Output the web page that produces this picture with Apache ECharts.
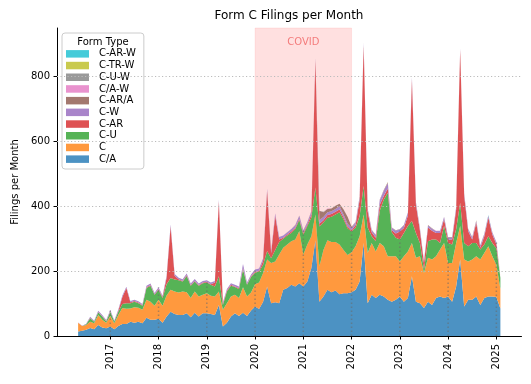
<!DOCTYPE html>
<html><head><meta charset="utf-8">
<script src="https://cdn.jsdelivr.net/npm/echarts@6/dist/echarts.min.js"></script>
<style>html,body{margin:0;padding:0;background:#fff}#c{width:531px;height:384px}</style>
</head><body><div id="c"></div>
<script>
// ---- data ----
const FIRST_MONTH = '2016-05';
const N_MONTHS = 106; // 2016-05 .. 2025-02
const yearTicks = [2017, 2018, 2019, 2020, 2021, 2022, 2023, 2024, 2025];
const yTicks = [0, 200, 400, 600, 800];
const covidSpan = ['2020-01', '2022-01'];

// monthly filings per form type (rows = years)
const CA = [14,16,19,25,21,34,26,24,
 29,21,31,37,37,44,41,44,39,56,50,50,
 53,41,60,75,68,65,65,70,58,72,60,70,
 70,68,65,96,29,41,60,70,62,72,62,79,
 91,83,106,153,101,104,101,143,148,158,153,163,
 153,168,210,295,106,122,143,135,140,129,132,132,
 135,143,168,287,101,127,117,127,122,112,106,112,
 122,106,117,184,106,101,86,106,96,117,122,117,
 122,106,153,236,91,112,112,122,96,117,122,122,
 120,85];
const C = [27,15,15,19,18,31,24,17,
 33,18,34,49,47,41,48,43,42,56,56,43,
 59,52,65,68,69,69,72,65,59,65,62,57,
 62,56,57,41,52,60,62,57,55,78,60,55,
 69,82,88,83,124,126,150,129,134,134,145,161,
 98,114,98,80,109,143,152,155,150,153,133,118,
 123,134,140,88,155,160,144,160,155,134,140,134,
 108,140,144,103,135,145,108,135,140,129,145,170,
 103,119,134,103,145,118,124,124,140,139,155,124,
 100,60];
const CU = [0,0,2,11,5,8,10,4,
 13,6,10,13,17,16,17,14,12,36,49,34,
 31,24,35,36,37,38,31,50,38,31,33,36,
 33,34,31,47,15,36,33,24,28,55,36,48,
 35,34,26,26,15,35,39,28,28,26,32,34,
 62,57,57,83,123,85,70,78,85,100,95,82,
 64,57,62,88,79,21,31,99,143,196,74,57,
 68,72,78,68,77,41,11,51,62,52,20,52,
 62,57,42,72,51,47,51,41,31,26,31,41,
 50,35];
const CAR = [0,0,0,1,0,1,1,1,
 1,0,3,21,47,3,2,2,2,2,2,2,
 2,3,20,159,12,3,2,3,2,2,2,2,
 2,2,12,231,4,3,3,2,3,5,2,3,
 3,2,12,185,15,105,8,3,3,4,4,4,
 5,5,10,392,8,7,8,8,8,8,6,6,
 4,8,50,432,50,12,11,19,12,13,6,13,
 24,15,33,435,87,38,20,43,27,20,31,21,
 11,16,61,471,145,46,11,62,5,26,57,26,
 13,3];
const CW = [1,1,2,3,3,4,4,3,
 4,3,4,5,4,4,4,4,4,5,5,4,
 5,4,6,6,5,5,5,5,5,6,5,5,
 5,5,5,5,4,5,5,5,5,12,5,5,
 7,7,8,7,7,7,7,7,6,8,7,9,
 7,7,8,6,12,10,9,9,9,10,9,8,
 8,8,8,8,7,7,8,14,16,17,8,9,
 7,8,9,8,7,6,5,6,6,6,7,7,
 6,6,7,5,7,6,6,6,7,6,6,6,
 6,4];
const CARA = [0,0,0,0,0,0,0,0,
 0,0,0,0,0,0,0,0,0,0,0,0,
 0,0,0,0,0,0,0,0,0,0,0,0,
 0,0,0,0,0,0,0,0,0,0,0,0,
 0,0,0,1,0,1,0,0,1,0,1,1,
 1,1,2,2,28,15,10,8,10,8,15,22,
 3,2,2,2,1,1,1,1,2,2,1,1,
 1,1,1,2,1,1,0,1,1,0,0,1,
 1,1,1,1,1,1,1,1,1,1,1,1,
 1,0];
const CAW = [0,0,0,0,0,0,0,0,
 0,0,0,0,0,0,0,0,0,0,0,0,
 0,0,0,0,0,0,0,0,0,0,0,0,
 0,0,0,0,0,0,0,0,0,0,0,0,
 0,0,0,0,0,1,0,0,0,0,0,0,
 0,0,1,0,0,0,1,0,0,0,0,0,
 0,1,0,0,0,0,0,1,0,0,0,0,
 0,0,0,1,0,0,0,0,0,1,0,0,
 0,0,1,0,0,0,0,0,1,0,0,0,
 0,0];
const CUW = [0,0,0,0,0,0,0,0,
 0,0,0,0,0,0,0,0,0,0,0,0,
 0,0,0,0,0,0,0,0,0,0,0,0,
 0,0,0,0,0,0,0,0,0,0,0,0,
 0,0,0,0,0,0,0,0,0,0,0,0,
 0,0,0,0,0,1,0,0,0,0,1,0,
 0,0,0,0,1,0,0,0,0,0,0,0,
 0,0,0,0,0,0,1,0,0,0,0,0,
 0,0,0,0,0,1,0,0,0,0,0,0,
 0,0];
const CTRW = [0,0,0,0,0,0,0,0,
 0,0,0,0,0,0,0,0,0,0,0,0,
 0,0,0,0,0,0,0,0,0,0,0,0,
 0,0,0,0,0,0,0,0,0,0,0,0,
 0,0,0,0,0,0,0,0,0,0,0,0,
 0,0,0,0,0,0,0,0,0,0,0,0,
 0,0,0,0,0,0,0,0,0,1,0,0,
 0,0,0,0,0,0,0,0,0,0,0,0,
 0,0,0,0,0,0,0,1,0,0,0,0,
 0,0];
const CARW = [0,0,0,0,0,0,0,0,
 0,0,0,0,0,0,0,0,0,0,0,0,
 0,0,0,0,0,0,0,0,0,0,0,0,
 0,0,0,0,0,0,0,0,0,0,0,0,
 0,0,0,0,0,0,0,0,0,0,0,0,
 0,0,0,0,0,0,0,0,0,0,0,0,
 0,0,0,0,0,0,0,0,0,0,0,0,
 0,0,0,0,1,0,0,0,0,0,0,0,
 0,0,0,0,0,0,0,0,0,0,1,0,
 0,0];

const seriesNames = ['C/A','C','C-U','C-AR','C-W','C-AR/A','C/A-W','C-U-W','C-TR-W','C-AR-W'];
const seriesValues = [CA, C, CU, CAR, CW, CARA, CAW, CUW, CTRW, CARW];
const seriesColors = ['#4c92c3','#ff993e','#56b356','#de5253','#a985ca','#a3786f','#e992ce','#999999','#c9ca4e','#45cbd9'];

// ---- month categories ----
const months = [];
{
  let [y, m] = FIRST_MONTH.split('-').map(Number);
  for (let i = 0; i < N_MONTHS; i++) {
    months.push(y + '-' + String(m).padStart(2, '0'));
    m++; if (m > 12) { m = 1; y++; }
  }
}
const xOf = s => { const [y, m] = s.split('-').map(Number); return y + (m - 1) / 12; };
const xs = months.map(xOf);
const xSpan = xs[xs.length - 1] - xs[0];
const xMin = xs[0] - 0.05 * xSpan, xMax = xs[xs.length - 1] + 0.05 * xSpan;

const FONT = 'DejaVu Sans';
// data rows are [value, x] so that the stack is applied to the y dimension
const areaSeries = seriesNames.map((name, k) => ({
  name, type: 'line', stack: 'total', symbol: 'none', showSymbol: false,
  color: seriesColors[k],
  encode: { x: 1, y: 0 },
  lineStyle: { width: 0, opacity: 0 },
  areaStyle: { color: seriesColors[k], opacity: 1 },
  z: 2,
  data: seriesValues[k].map((v, i) => [v, xs[i]])
}));

const yearLines = yearTicks.map(y => {
  const idx = months.indexOf(y + '-01');
  let t = 0; seriesValues.forEach(a => t += a[idx]);
  return [y, t];
});

const chart = echarts.init(document.getElementById('c'), null, { renderer: 'canvas' });
chart.setOption({
  animation: false,
  textStyle: { fontFamily: FONT },
  grid: { left: 57, right: 9.5, top: 28, bottom: 48, containLabel: false, outerBoundsMode: 'none' },
  xAxis: {
    type: 'value', min: xMin, max: xMax,
    axisLine: { show: true, onZero: false, lineStyle: { color: '#000', width: 1 } },
    axisTick: { show: true, customValues: yearTicks, length: 3.5, lineStyle: { color: '#000' } },
    axisLabel: { customValues: yearTicks, rotate: 90, fontSize: 10, color: '#000', margin: 8,
      fontFamily: FONT, formatter: v => String(Math.round(v)) },
    splitLine: { show: false }
  },
  yAxis: {
    type: 'value', min: 0, max: 950,
    name: 'Filings per Month', nameLocation: 'middle', nameGap: 36,
    nameTextStyle: { fontSize: 10, color: '#000', fontFamily: FONT },
    axisLine: { show: true, lineStyle: { color: '#000', width: 1 } },
    axisTick: { show: true, customValues: yTicks, length: 3.5, lineStyle: { color: '#000' } },
    axisLabel: { customValues: yTicks, fontSize: 10, color: '#000', margin: 7, fontFamily: FONT },
    splitLine: { show: false }
  },
  legend: {
    orient: 'vertical', left: 62, top: 33,
    padding: [15, 8, 4, 4],
    backgroundColor: 'rgba(255,255,255,0.8)', borderColor: '#cccccc', borderWidth: 1, borderRadius: 3,
    icon: 'rect', itemWidth: 23, itemHeight: 7.5, itemGap: 0,
    textStyle: { fontSize: 10, color: '#000', lineHeight: 11.7, fontFamily: FONT, padding: [0, 0, 0, 5] },
    data: seriesNames.slice().reverse(),
    selectedMode: false
  },
  graphic: [
    { type: 'text', x: 289, y: 16, z: 100,
      style: { text: 'Form C Filings per Month', font: '12px "DejaVu Sans"', fill: '#000', textAlign: 'center', textVerticalAlign: 'middle' } },
    { type: 'text', x: 103, y: 42, z: 100,
      style: { text: 'Form Type', font: '10px "DejaVu Sans"', fill: '#000', textAlign: 'center', textVerticalAlign: 'middle' } }
  ],
  series: [
    {
      type: 'line', name: '_bg', data: [], z: 1, silent: true,
      markArea: {
        silent: true,
        itemStyle: { color: 'rgba(255,0,0,0.12)', borderColor: 'rgba(255,0,0,0.08)', borderWidth: 1 },
        label: { show: true, position: 'insideTop', distance: 10, color: '#f47c7c', fontSize: 10, fontFamily: FONT },
        data: [[{ name: 'COVID', xAxis: xOf(covidSpan[0]) }, { xAxis: xOf(covidSpan[1]) }]]
      },
      markLine: {
        silent: true, symbol: 'none', label: { show: false },
        lineStyle: { color: '#bbbbbb', width: 1, type: [1.2, 2.3] },
        data: yTicks.filter(v => v > 0).map(v => ({ yAxis: v }))
      }
    },
    ...areaSeries,
    {
      type: 'custom', name: '_vlines', z: 3, silent: true,
      data: yearLines,
      renderItem: (params, api) => {
        const x = api.value(0), t = api.value(1);
        const p0 = api.coord([x, 0]), p1 = api.coord([x, t]);
        return { type: 'line', shape: { x1: p0[0], y1: p0[1], x2: p1[0], y2: p1[1] },
          style: { stroke: 'rgba(105,105,105,0.55)', lineWidth: 1.5, lineDash: [1.5, 2.5] } };
      }
    }
  ]
});
</script></body></html>
